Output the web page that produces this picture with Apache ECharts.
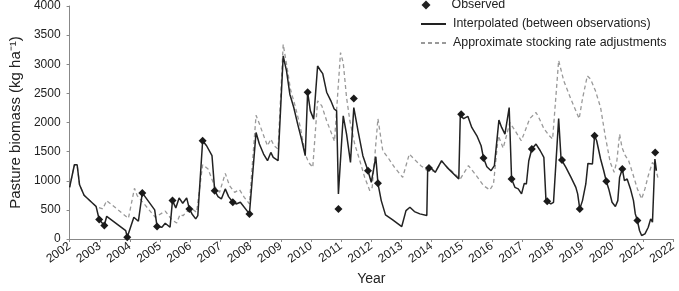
<!DOCTYPE html>
<html>
<head>
<meta charset="utf-8">
<script src="https://cdn.jsdelivr.net/npm/echarts@6/dist/echarts.min.js"></script>
<style>html,body{margin:0;padding:0;background:#fff}#c{width:679px;height:291px}</style>
</head>
<body>
<div id="c"></div>
<script>
const obsYears = [2002.98,2003.15,2003.91,2004.41,2004.90,2005.41,2005.97,2006.41,2006.81,2007.41,2007.96,2009.89,2010.91,2011.42,2011.89,2012.22,2013.91,2014.98,2015.72,2016.65,2017.32,2017.83,2018.32,2018.91,2019.40,2019.79,2020.32,2020.82,2021.41];
const obsValues = [334,231,31,791,214,659,517,1687,830,630,431,2520,517,2411,1173,955,1219,2140,1390,1031,1545,647,1356,517,1772,990,1202,317,1486];

const interpYears = [2002.00,2002.16,2002.25,2002.33,2002.48,2002.88,2002.93,2002.98,2003.15,2003.23,2003.86,2003.91,2004.13,2004.28,2004.41,2004.82,2004.90,2005.06,2005.17,2005.33,2005.41,2005.52,2005.63,2005.75,2005.88,2005.97,2006.07,2006.18,2006.25,2006.41,2006.54,2006.72,2006.81,2006.92,2007.03,2007.16,2007.27,2007.41,2007.52,2007.66,2007.96,2008.18,2008.29,2008.43,2008.56,2008.67,2008.75,2008.91,2009.08,2009.19,2009.30,2009.43,2009.56,2009.70,2009.81,2009.89,2009.98,2010.09,2010.22,2010.31,2010.39,2010.52,2010.66,2010.77,2010.85,2010.91,2011.07,2011.18,2011.31,2011.42,2011.56,2011.72,2011.89,2012.00,2012.15,2012.22,2012.33,2012.47,2012.71,2013.01,2013.15,2013.28,2013.43,2013.61,2013.84,2013.87,2013.91,2014.01,2014.12,2014.33,2014.51,2014.90,2014.95,2015.06,2015.20,2015.33,2015.50,2015.64,2015.72,2015.83,2015.97,2016.08,2016.23,2016.32,2016.43,2016.57,2016.65,2016.76,2016.87,2016.98,2017.07,2017.14,2017.22,2017.32,2017.46,2017.60,2017.72,2017.79,2017.83,2017.95,2018.04,2018.21,2018.29,2018.32,2018.45,2018.62,2018.78,2018.84,2018.91,2019.00,2019.11,2019.18,2019.33,2019.40,2019.47,2019.60,2019.70,2019.79,2019.87,2019.98,2020.09,2020.17,2020.23,2020.32,2020.39,2020.48,2020.59,2020.69,2020.75,2020.82,2020.89,2020.96,2021.07,2021.18,2021.26,2021.32,2021.40,2021.45];
const interpValues = [887,1275,1275,930,750,557,534,334,231,390,145,31,373,305,791,500,214,202,271,202,659,534,705,613,705,517,420,346,402,1687,1601,1430,830,728,688,860,728,630,602,630,431,1829,1630,1459,1344,1486,1400,1344,3142,2885,2486,2257,1973,1687,1430,2520,2200,2058,2971,2897,2839,2520,2372,2232,2200,774,2115,1801,1315,2257,1858,1430,1173,973,1413,955,659,414,329,214,488,545,471,431,402,1230,1219,1202,1145,1344,1230,1031,2123,2066,2106,1915,1772,1601,1390,1241,1173,1259,2041,1915,1801,2257,1031,887,860,774,955,945,1344,1545,1630,1515,1400,659,647,602,630,2066,1373,1356,1230,1058,887,774,517,659,945,1298,1287,1772,1687,1373,1180,990,860,630,557,659,1058,1202,1002,1031,860,659,431,317,146,60,89,202,346,288,1373,1173];

const stockYears = [2002.00,2002.16,2002.25,2002.33,2002.48,2002.88,2002.93,2003.10,2003.23,2003.95,2004.15,2004.24,2004.84,2005.17,2005.39,2005.55,2005.66,2005.76,2005.88,2006.05,2006.21,2006.41,2006.59,2006.81,2006.97,2007.16,2007.30,2007.47,2007.63,2007.79,2007.96,2008.18,2008.29,2008.45,2008.56,2008.67,2008.78,2008.91,2009.08,2009.21,2009.32,2009.49,2009.65,2009.81,2009.92,2010.06,2010.22,2010.36,2010.52,2010.69,2010.78,2010.98,2011.07,2011.18,2011.29,2011.45,2011.62,2011.78,2011.95,2012.03,2012.22,2012.38,2012.55,2012.77,2013.04,2013.26,2013.42,2013.64,2013.86,2014.01,2014.12,2014.33,2014.51,2014.95,2015.22,2015.44,2015.72,2015.93,2016.05,2016.21,2016.37,2016.48,2016.59,2016.75,2016.97,2017.08,2017.25,2017.46,2017.57,2017.72,2017.90,2018.01,2018.21,2018.38,2018.61,2018.78,2018.89,2019.00,2019.16,2019.27,2019.43,2019.60,2019.76,2019.92,2020.05,2020.14,2020.23,2020.31,2020.42,2020.53,2020.67,2020.82,2020.96,2021.07,2021.18,2021.32,2021.40,2021.51];
const stockValues = [887,1275,1275,930,750,557,534,517,659,356,870,745,373,480,330,275,420,400,470,517,459,1275,1202,899,801,1127,916,801,848,716,603,2123,1978,1750,1601,1716,1601,1545,3342,2942,2571,2257,1915,1459,1315,1230,2372,2286,2030,1801,1680,3199,3027,2428,2030,1630,1344,1058,830,887,2066,1515,1400,1230,1058,1459,1373,1259,1173,1173,1150,1332,1241,1031,1259,1116,916,842,945,1772,1560,1772,2000,1872,1687,1829,2066,2172,2066,1896,1772,1716,3065,2714,2408,2200,2066,2408,2800,2743,2543,2257,1750,1315,1145,1344,1801,1572,1430,1344,1116,860,688,860,1087,1315,1259,1031];

const yTicks = [0,500,1000,1500,2000,2500,3000,3500,4000];

const zip = (a, b) => a.map((x, i) => [x, b[i]]);
const FONT = 'Liberation Sans, Arial, sans-serif';
const legendText = {fontFamily: FONT, fontSize: 12.4, color: '#222', lineHeight: 14};
const chart = echarts.init(document.getElementById('c'), null, {renderer: 'canvas'});
chart.setOption({
  animation: false,
  backgroundColor: '#fff',
  grid: {left: 63, right: 6, top: 5, bottom: 52, containLabel: false},
  legend: [
    {
      left: 421.5, top: -2, padding: 0,
      itemWidth: 9, itemHeight: 9, icon: 'diamond',
      itemStyle: {opacity: 1, color: '#222'},
      textStyle: Object.assign({}, legendText, {padding: [0, 0, 0, 16]}),
      data: ['Observed']
    },
    {
      orient: 'vertical', left: 420, top: 17, padding: 0, itemGap: 5,
      itemWidth: 25, itemHeight: 10,
      textStyle: Object.assign({}, legendText, {padding: [0, 0, 0, 2]}),
      data: [
        {name: 'Interpolated (between observations)', itemStyle: {opacity: 0}},
        {name: 'Approximate stocking rate adjustments', itemStyle: {opacity: 0}}
      ]
    }
  ],
  xAxis: {
    type: 'value', min: 2002, max: 2022, interval: 1,
    name: 'Year', nameLocation: 'middle', nameGap: 26,
    nameTextStyle: {fontFamily: FONT, fontSize: 14, color: '#222'},
    axisLine: {show: true, lineStyle: {color: '#888', width: 1}},
    axisTick: {show: true, length: 3, lineStyle: {color: '#888'}},
    axisLabel: {rotate: 35, margin: 6, fontFamily: FONT, fontSize: 12, color: '#222', formatter: v => String(v)},
    splitLine: {show: false}
  },
  yAxis: {
    type: 'value', min: yTicks[0], max: yTicks[yTicks.length - 1], interval: 500,
    name: 'Pasture biomass (kg ha\u207B\u00B9)', nameLocation: 'middle', nameGap: 45,
    nameTextStyle: {fontFamily: FONT, fontSize: 15, color: '#222'},
    axisLine: {show: true, lineStyle: {color: '#888', width: 1}},
    axisTick: {show: true, length: 3, lineStyle: {color: '#888'}},
    axisLabel: {margin: 9, fontFamily: FONT, fontSize: 12, color: '#222', formatter: v => String(v)},
    splitLine: {show: false}
  },
  series: [
    {
      name: 'Approximate stocking rate adjustments', type: 'line', symbol: 'none',
      data: zip(stockYears, stockValues),
      lineStyle: {color: '#999', width: 1.3, type: [4, 3]}, itemStyle: {color: '#999'}, z: 2
    },
    {
      name: 'Interpolated (between observations)', type: 'line', symbol: 'none',
      data: zip(interpYears, interpValues),
      lineStyle: {color: '#222', width: 1.5}, itemStyle: {color: '#222'}, z: 3
    },
    {
      name: 'Observed', type: 'scatter', symbol: 'diamond', symbolSize: 8,
      data: zip(obsYears, obsValues),
      itemStyle: {color: '#1a1a1a', opacity: 1}, z: 4
    }
  ]
});
</script>
</body>
</html>
